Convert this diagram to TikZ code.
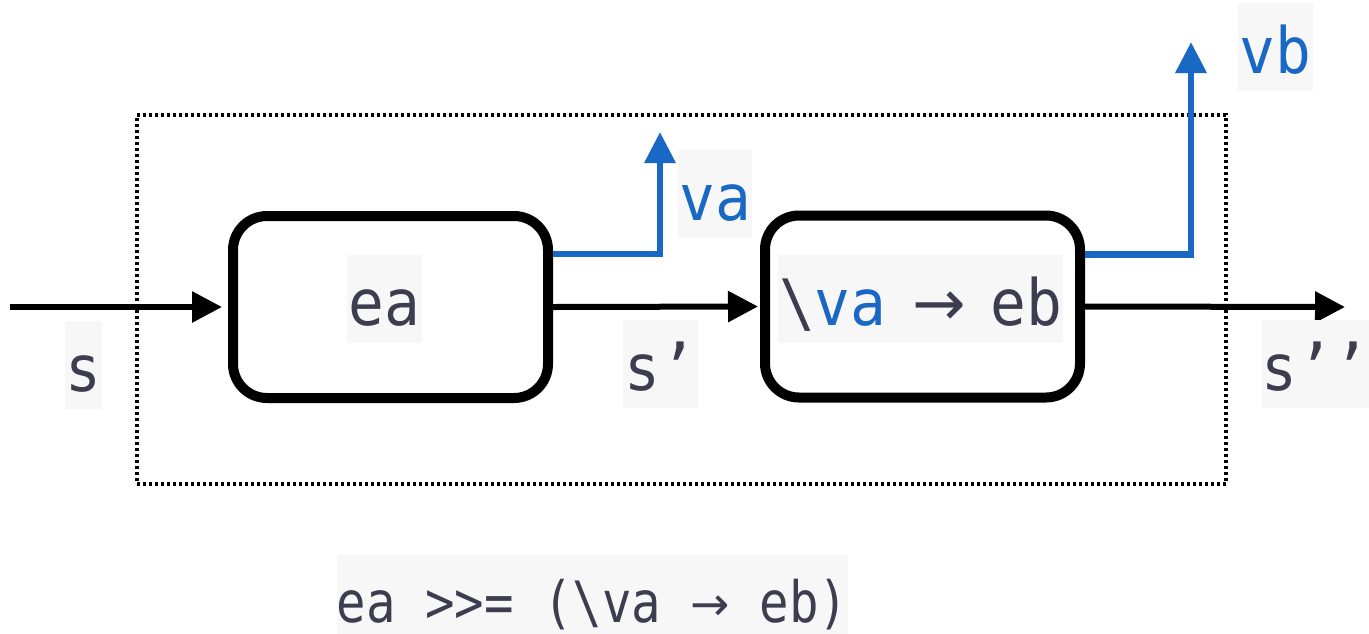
\documentclass[tikz,border=0pt]{standalone}
\usepackage{fontspec}
\setmonofont{DejaVu Sans Mono}[FakeStretch=0.93]
\newfontfamily\formfont{DejaVu Sans Mono}[FakeStretch=0.86]
\newfontfamily\symfont{DejaVu Sans}
\usetikzlibrary{arrows.meta}
\definecolor{ink}{RGB}{62,61,80}
\definecolor{vblue}{RGB}{24,104,196}
\definecolor{hl}{RGB}{247,247,248}
\begin{document}
\begin{tikzpicture}[x=1pt,y=-1pt,
  blk/.style={draw=black,line width=10pt,rounded corners=34pt,minimum width=315pt,minimum height=182pt,inner sep=0pt,fill=white},
  lbl/.style={fill=hl,inner sep=0pt,text height=70pt,text depth=18pt,anchor=base,text=ink,
    font=\ttfamily\fontsize{64}{64}\selectfont},
  blbl/.style={lbl,text=vblue},
  flow/.style={line width=6pt,-{Triangle[length=30pt,width=30pt]}},
  bflow/.style={draw=vblue,line width=6.5pt,-{Triangle[length=31pt,width=30pt]}},
  frame/.style={draw=black,line width=3.5pt,dash pattern=on 3pt off 3pt},
  formula/.style={fill=hl,inner sep=0pt,text height=67pt,text depth=30pt,anchor=base,text=ink,
    font=\formfont\fontsize{57}{57}\selectfont}]
\useasboundingbox (0,0) rectangle (1369,633);

% dotted frame
\node[frame,minimum width=1089pt,minimum height=369pt,inner sep=0pt,outer sep=0pt] (frm) at (681.5,299.5) {};

% boxes
\node[blk] (box1) at (390.5,307) {};
\node[blk] (box2) at (922.5,306.5) {};

% black flow
\coordinate (sIn) at (10,307);
\coordinate (sOut) at (1345,307);
\draw[flow,shorten >=6pt] (sIn) -- (box1.west);
\draw[flow,shorten >=2pt] (box1.east) -- (box2.west);
\draw[flow] (box2.east) -- (sOut);

% blue outputs
\coordinate (vaTip) at (660,132);
\coordinate (vbTip) at (1191,42);
\draw[bflow] ([yshift=53pt]box1.east) -| (vaTip);
\draw[bflow] ([yshift=52pt]box2.east) -| (vbTip);

% labels in boxes
\node[lbl,minimum width=75pt] (ealbl) at (384.5,325) {ea};
\node[lbl,minimum width=285pt] (eblbl) at (920.5,325)
  {\textbackslash{\color{vblue}va}\kern26pt{\symfont →}\kern24pt eb};

% state labels
\node[lbl,minimum width=37pt] (s0) at (83.5,391) {s};
\node[lbl,minimum width=75pt] (s1) at (660.5,390) {s’};
\node[lbl,minimum width=107pt] (s2) at (1315.5,390) {s’’};

% value labels
\node[blbl,minimum width=74pt] (valbl) at (715,220) {va};
\node[blbl,minimum width=75pt] (vblbl) at (1275.5,73) {vb};

% formula
\node[formula,minimum width=495pt] (form) at (592.5,622)
  {ea >\kern0pt>= (\textbackslash va \raisebox{2pt}{\symfont\fontsize{47}{47}\selectfont →} eb)};
\end{tikzpicture}
\end{document}
